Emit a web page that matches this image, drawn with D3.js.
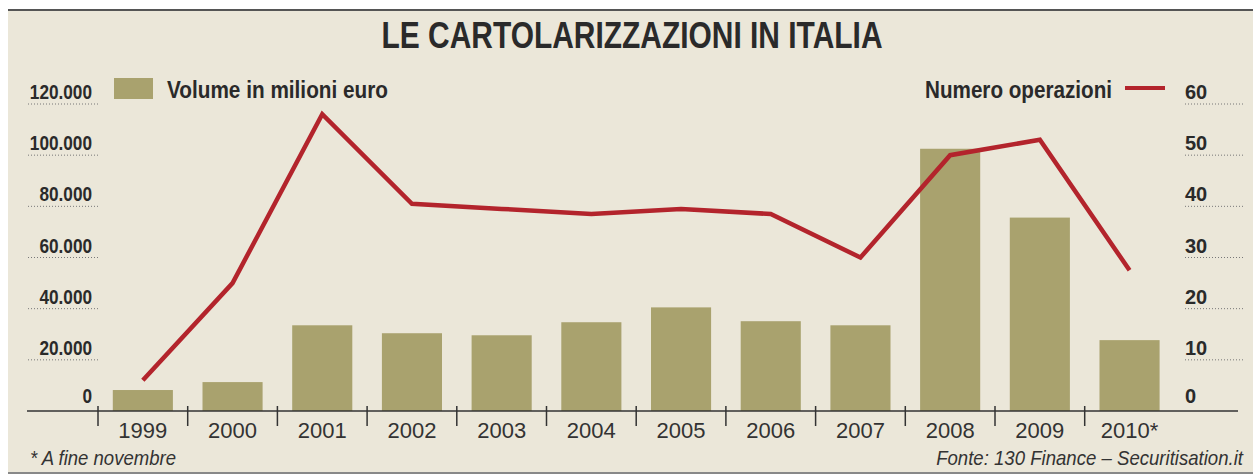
<!DOCTYPE html>
<html lang="it">
<head>
    <meta charset="utf-8">
    <script src="https://d3js.org/d3.v7.min.js"></script>
</head>
<style>
    body { margin: 0; background: #fff; }
    svg text { font-family: "Liberation Sans Narrow", "Arial Narrow", "Liberation Sans", sans-serif; }
</style>
<body>
<script>
    // chart size = browser window
    const w = 1253
    const h = 475

    // data
    const years = ["1999", "2000", "2001", "2002", "2003", "2004", "2005", "2006", "2007", "2008", "2009", "2010*"]
    const volume = [8200, 11300, 33500, 30400, 29600, 34700, 40500, 35100, 33500, 102500, 75600, 27700]   // milioni euro
    const operazioni = [6, 25, 58, 40.5, 39.5, 38.5, 39.5, 38.5, 30, 50, 53, 27.5]
    const leftTicks = [0, 20000, 40000, 60000, 80000, 100000, 120000]
    const rightTicks = [0, 10, 20, 30, 40, 50, 60]

    const bg = "#ebe7d9"
    const barColor = "#a9a26e"
    const lineColor = "#b3242c"
    const ink = "#2a2a2a"

    let svg = d3.select("body")
        .append("svg")
        .attr("width", w)
        .attr("height", h)

    // beige panel with the rules top and bottom
    svg.append("rect")
        .attr("x", 8).attr("y", 10)
        .attr("width", w - 8).attr("height", 463)
        .attr("fill", bg)
    svg.append("line")
        .attr("x1", 8).attr("x2", w).attr("y1", 10).attr("y2", 10)
        .attr("stroke", "#555").attr("stroke-width", 2)
    svg.append("line")
        .attr("x1", 8).attr("x2", w).attr("y1", 473).attr("y2", 473)
        .attr("stroke", "#888").attr("stroke-width", 2)

    // scales
    let xScale = d3.scaleBand()
        .domain(years)
        .range([98, 1174.4])
        .paddingInner(0.33)
        .paddingOuter(0.165)

    // same bands without padding, for the tick marks
    let xOuter = d3.scaleBand()
        .domain(years)
        .range([98, 1174.4])

    let yLeft = d3.scaleLinear()
        .domain([0, 120000])
        .range([411, 104])

    let yRight = d3.scaleLinear()
        .domain([0, 60])
        .range([411, 104])

    const it = d3.formatLocale({ decimal: ",", thousands: ".", grouping: [3], currency: ["", "€"] })
    const fmt = it.format(",")

    // title
    svg.append("text")
        .attr("x", 632).attr("y", 48)
        .attr("text-anchor", "middle")
        .attr("font-size", 37)
        .attr("font-weight", "bold")
        .attr("fill", ink)
        .attr("textLength", 501)
        .attr("lengthAdjust", "spacingAndGlyphs")
        .text("LE CARTOLARIZZAZIONI IN ITALIA")

    // left axis: labels and dotted rules
    svg.selectAll(".lgrid")
        .data(leftTicks.filter(d => d > 0))
        .enter()
        .append("line")
        .attr("x1", 28).attr("x2", 100)
        .attr("y1", d => yLeft(d)).attr("y2", d => yLeft(d))
        .attr("stroke", "#777")
        .attr("stroke-width", 1)
        .attr("stroke-dasharray", "1,2")

    // condensed look: squeeze the labels horizontally
    svg.selectAll(".llab")
        .data(leftTicks)
        .enter()
        .append("text")
        .attr("transform", d => "translate(92," + (yLeft(d) - (d === 0 ? 8 : 5)) + ") scale(0.86,1)")
        .attr("text-anchor", "end")
        .attr("font-size", 20)
        .attr("font-weight", "bold")
        .attr("fill", ink)
        .text(d => fmt(d))

    // right axis
    svg.selectAll(".rgrid")
        .data(rightTicks.filter(d => d > 0))
        .enter()
        .append("line")
        .attr("x1", 1185).attr("x2", 1243)
        .attr("y1", d => yRight(d)).attr("y2", d => yRight(d))
        .attr("stroke", "#777")
        .attr("stroke-width", 1)
        .attr("stroke-dasharray", "1,2")

    svg.selectAll(".rlab")
        .data(rightTicks)
        .enter()
        .append("text")
        .attr("x", 1185)
        .attr("y", d => yRight(d) - (d === 0 ? 8 : 5))
        .attr("font-size", 20)
        .attr("font-weight", "bold")
        .attr("fill", ink)
        .text(d => d)

    // bars
    svg.selectAll(".bar")
        .data(years)
        .enter()
        .append("rect")
        .attr("x", d => xScale(d))
        .attr("width", xScale.bandwidth())
        .attr("y", (d, i) => yLeft(volume[i]))
        .attr("height", (d, i) => yLeft(0) - yLeft(volume[i]))
        .attr("fill", barColor)

    // x axis baseline and ticks
    svg.append("line")
        .attr("x1", 27).attr("x2", 1238)
        .attr("y1", yLeft(0)).attr("y2", yLeft(0))
        .attr("stroke", "#333").attr("stroke-width", 1.5)

    svg.selectAll(".tick")
        .data(years)
        .enter()
        .append("line")
        .attr("x1", d => xOuter(d)).attr("x2", d => xOuter(d))
        .attr("y1", yLeft(0) - 5).attr("y2", yLeft(0) + 15)
        .attr("stroke", "#333").attr("stroke-width", 1.5)

    svg.selectAll(".year")
        .data(years)
        .enter()
        .append("text")
        .attr("x", d => xScale(d) + xScale.bandwidth() / 2)
        .attr("y", 438)
        .attr("text-anchor", "middle")
        .attr("font-family", "'Liberation Sans', Arial, sans-serif")
        .attr("font-size", 22)
        .attr("fill", "#333")
        .text(d => d)

    // line for number of operations
    let line = d3.line()
        .x((d, i) => xScale(years[i]) + xScale.bandwidth() / 2)
        .y(d => yRight(d))

    svg.append("path")
        .datum(operazioni)
        .attr("d", line)
        .attr("fill", "none")
        .attr("stroke", lineColor)
        .attr("stroke-width", 4.5)
        .attr("stroke-linejoin", "miter")

    // legends
    svg.append("rect")
        .attr("x", 114).attr("y", 78)
        .attr("width", 39).attr("height", 21)
        .attr("fill", barColor)
    svg.append("text")
        .attr("x", 167).attr("y", 98)
        .attr("font-size", 24)
        .attr("font-weight", "bold")
        .attr("fill", ink)
        .attr("textLength", 221)
        .attr("lengthAdjust", "spacingAndGlyphs")
        .text("Volume in milioni euro")

    svg.append("text")
        .attr("x", 925).attr("y", 98)
        .attr("font-size", 23)
        .attr("font-weight", "bold")
        .attr("fill", ink)
        .attr("textLength", 187)
        .attr("lengthAdjust", "spacingAndGlyphs")
        .text("Numero operazioni")
    svg.append("line")
        .attr("x1", 1125).attr("x2", 1165)
        .attr("y1", 88).attr("y2", 88)
        .attr("stroke", lineColor).attr("stroke-width", 4)

    // notes
    svg.append("text")
        .attr("x", 30).attr("y", 465)
        .attr("font-size", 20)
        .attr("font-style", "italic")
        .attr("fill", "#333")
        .attr("textLength", 146)
        .attr("lengthAdjust", "spacingAndGlyphs")
        .text("* A fine novembre")

    // squeezed with a transform so the box stays inside the panel
    svg.append("text")
        .attr("transform", "translate(1243,465) scale(0.93,1)")
        .attr("text-anchor", "end")
        .attr("font-size", 20)
        .attr("font-style", "italic")
        .attr("fill", "#333")
        .text("Fonte: 130 Finance – Securitisation.it")
</script>
</body>
</html>
